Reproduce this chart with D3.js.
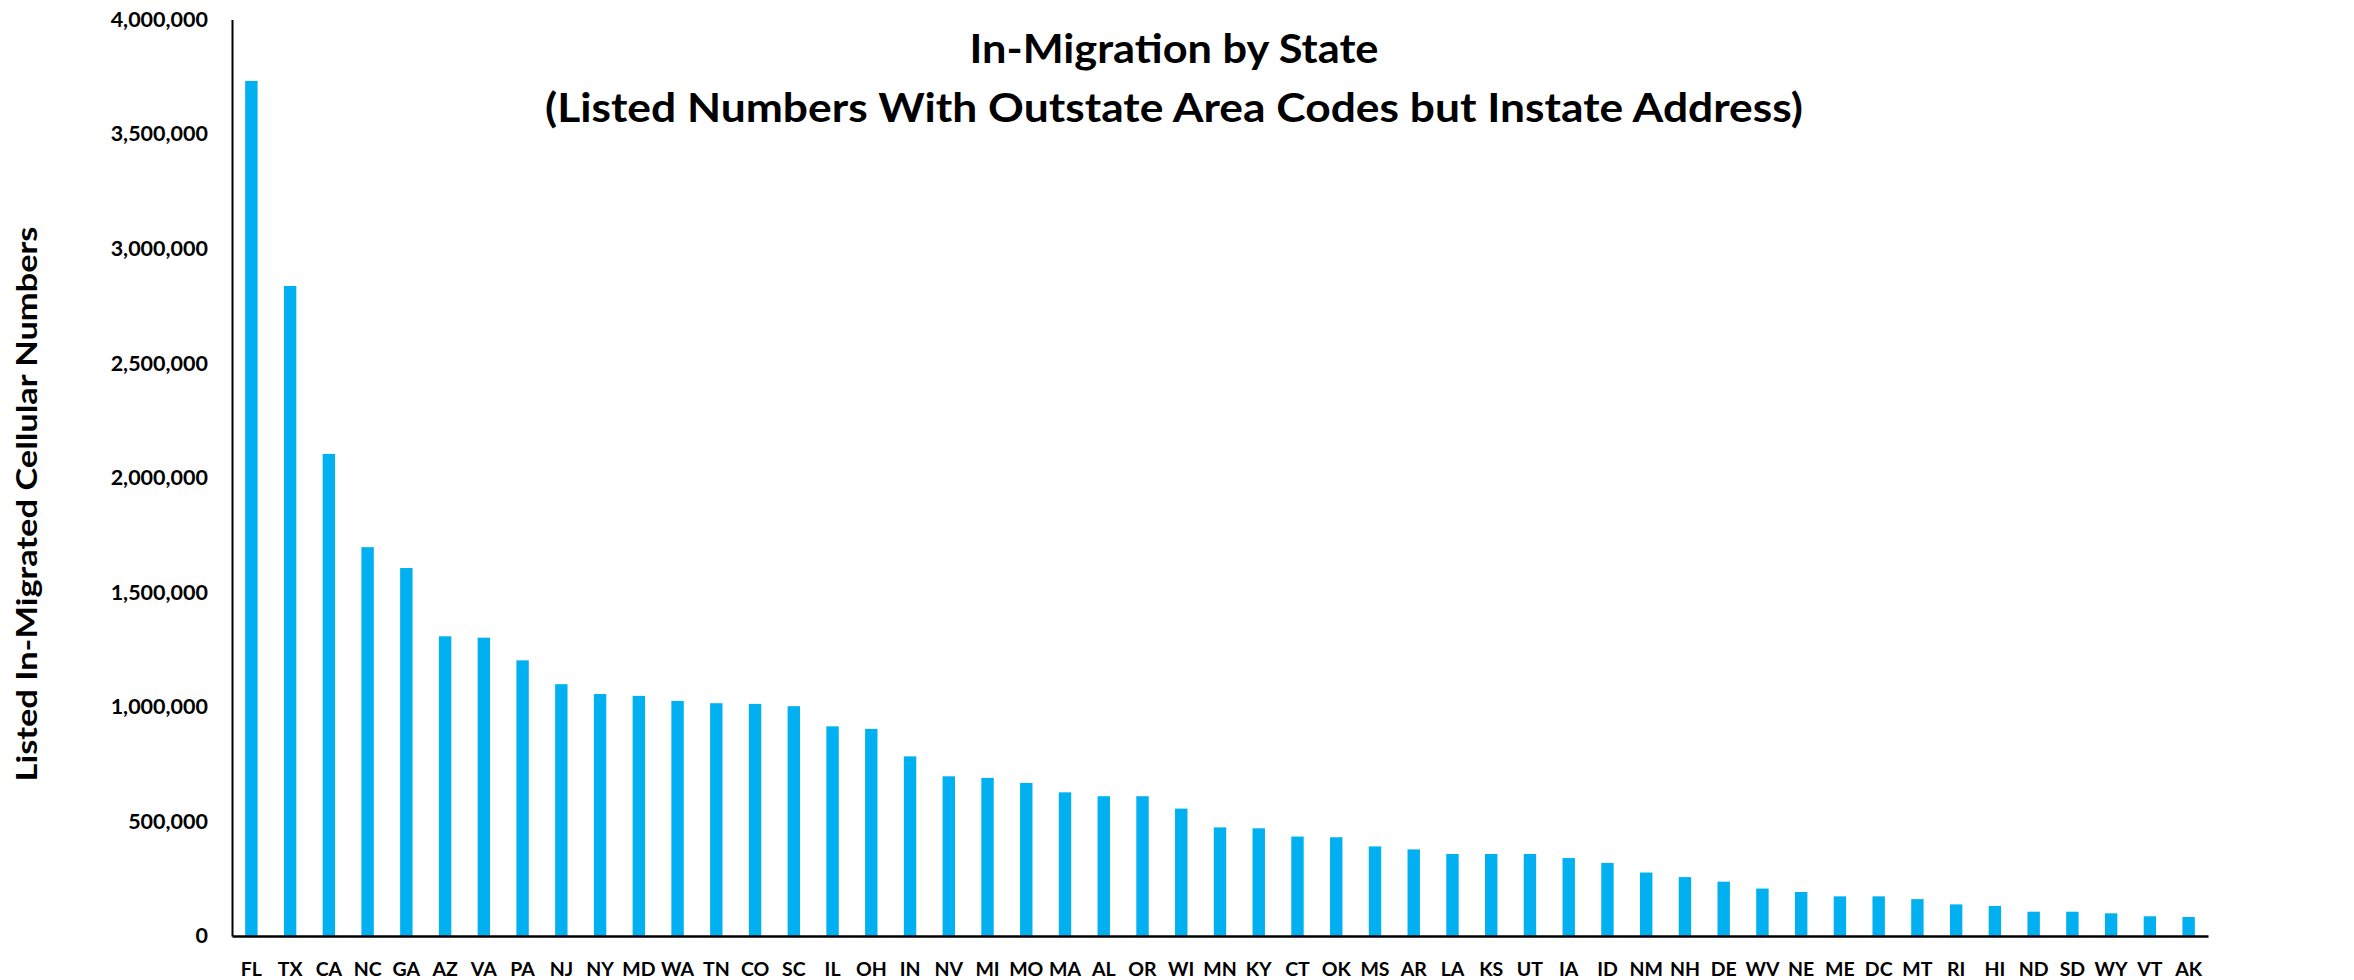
<!DOCTYPE html>
<html>
<head>
<meta charset="utf-8">
<script src="https://cdn.jsdelivr.net/npm/d3@7/dist/d3.min.js"></script>
<style>
  html, body { margin: 0; padding: 0; background: #ffffff; }
  svg { display: block; font-family: Lato, "Open Sans", sans-serif; }
</style>
</head>
<body>
<svg id="chart" width="2354" height="980"></svg>
<script>
// State abbreviations, ordered by in-migrated listed cellular numbers
const states = ["FL","TX","CA","NC","GA","AZ","VA","PA","NJ","NY",
                "MD","WA","TN","CO","SC","IL","OH","IN","NV","MI",
                "MO","MA","AL","OR","WI","MN","KY","CT","OK","MS",
                "AR","LA","KS","UT","IA","ID","NM","NH","DE","WV",
                "NE","ME","DC","MT","RI","HI","ND","SD","WY","VT","AK"];

// Listed in-migrated cellular numbers per state
const inMigrated = [3732000, 2837000, 2104000, 1697000, 1606000, 1308000, 1302000, 1203000, 1099000, 1056000,
                    1048000, 1026000, 1016000, 1013000, 1003000, 915000, 904000, 784000, 697000, 690000,
                    668000, 627000, 610000, 610000, 556000, 474000, 470000, 434000, 431000, 391000,
                    378000, 358000, 358000, 358000, 340000, 319000, 277000, 257000, 237000, 207000,
                    192000, 173000, 173000, 161000, 138000, 131000, 106000, 106000, 99000, 86000, 83000];

const yTicks = [0, 500000, 1000000, 1500000, 2000000, 2500000, 3000000, 3500000, 4000000];

const titleLines = ["In-Migration by State",
                    "(Listed Numbers With Outstate Area Codes but Instate Address)"];
const yTitle = "Listed In-Migrated Cellular Numbers";

const data = states.map((s, i) => ({ state: s, value: inMigrated[i] }));

const svg = d3.select("#chart");
const plotLeft = 232, plotRight = 2208, plotTop = 19.5, plotBottom = 936;

const x = d3.scaleBand()
  .domain(states)
  .range([plotLeft, plotRight])
  .paddingInner(0.68)
  .paddingOuter(0.34);

const y = d3.scaleLinear()
  .domain([0, 4000000])
  .range([plotBottom, plotTop]);

// Bars
svg.append("g")
  .selectAll("rect")
  .data(data)
  .join("rect")
  .attr("x", d => x(d.state))
  .attr("width", x.bandwidth())
  .attr("y", d => y(d.value))
  .attr("height", d => y(0) - y(d.value))
  .attr("fill", "#00b0f0");

// Y axis
const yAxis = svg.append("g")
  .attr("transform", `translate(${plotLeft},0)`)
  .call(d3.axisLeft(y).tickValues(yTicks).tickSize(0).tickPadding(24)
        .tickFormat(d3.format(",")));
yAxis.select(".domain").attr("stroke", "#000").attr("stroke-width", 2);
yAxis.selectAll("text")
  .attr("font-family", "Lato, sans-serif")
  .attr("font-weight", "bold")
  .attr("font-size", 21.5)
  .attr("fill", "#000");

// X axis
const xAxis = svg.append("g")
  .attr("transform", `translate(0,${plotBottom})`)
  .call(d3.axisBottom(x).tickSize(0));
xAxis.select(".domain").attr("stroke", "#000").attr("stroke-width", 2.5);
xAxis.selectAll("text")
  .attr("y", 39.5)
  .attr("dy", null)
  .attr("font-family", "Lato, sans-serif")
  .attr("font-weight", "bold")
  .attr("font-size", 19.5)
  .attr("fill", "#000");

// Title
svg.append("g")
  .selectAll("text")
  .data(titleLines)
  .join("text")
  .attr("x", 1174)
  .attr("y", (d, i) => i === 0 ? 63 : 121.5)
  .attr("text-anchor", "middle")
  .attr("font-weight", "bold")
  .attr("font-size", 40)
  .attr("fill", "#000")
  .attr("textLength", (d, i) => i === 0 ? 409 : 1258)
  .attr("lengthAdjust", "spacingAndGlyphs")
  .text(d => d);

// Y-axis title
svg.append("text")
  .attr("transform", "translate(37,504) rotate(-90)")
  .attr("text-anchor", "middle")
  .attr("font-weight", "bold")
  .attr("font-size", 29)
  .attr("fill", "#000")
  .attr("textLength", 555)
  .attr("lengthAdjust", "spacingAndGlyphs")
  .text(yTitle);
</script>
</body>
</html>
